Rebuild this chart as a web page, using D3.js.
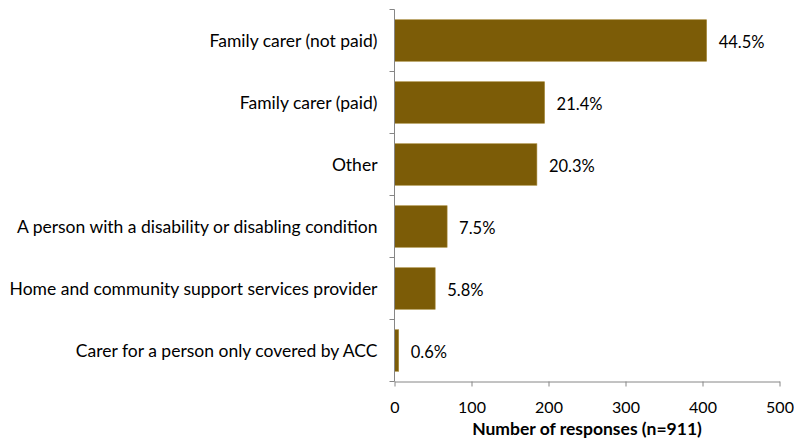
<!DOCTYPE html>
<html>
<head>
<meta charset="utf-8">
<script src="https://cdn.jsdelivr.net/npm/d3@7"></script>
<style>
  html, body { margin: 0; padding: 0; background: #fff; }
  svg { display: block; }
  text { font-family: Lato, "Open Sans", sans-serif; fill: #000; }
</style>
</head>
<body>
<svg id="chart" width="794" height="444"></svg>
<script>
// Respondent roles, top to bottom
const categories = [
  "Family carer (not paid)",
  "Family carer (paid)",
  "Other",
  "A person with a disability or disabling condition",
  "Home and community support services provider",
  "Carer for a person only covered by ACC"
];
// Share of respondents (%)
const percentages = [44.5, 21.4, 20.3, 7.5, 5.8, 0.6];
const totalResponses = 911;
// Number of responses implied by each share
const counts = percentages.map(p => p / 100 * totalResponses);
const xTicks = [0, 100, 200, 300, 400, 500];
const xTitle = "Number of responses (n=911)";

const svg = d3.select("#chart");
const plotTop = 9.5, plotBottom = 381.5;

const x = d3.scaleLinear().domain([0, 500]).range([394.5, 779.5]);
const y = d3.scaleBand().domain(categories).range([plotTop, plotBottom]).paddingInner(0.33).paddingOuter(0.165);

const data = categories.map((c, i) => ({ cat: c, count: counts[i], pct: percentages[i] }));

// Bars
svg.append("g").selectAll("rect").data(data).join("rect")
  .attr("x", x(0))
  .attr("y", d => y(d.cat))
  .attr("width", d => x(d.count) - x(0))
  .attr("height", y.bandwidth())
  .attr("fill", "#7c5c07")
  .attr("stroke", "#a88b3c")
  .attr("stroke-width", 0.6);

// Value labels
svg.append("g").selectAll("text").data(data).join("text")
  .attr("x", d => x(d.count) + 12)
  .attr("y", d => y(d.cat) + y.bandwidth() / 2 + 2)
  .attr("dy", "0.35em")
  .attr("font-size", 16.5)
  .text(d => d.pct.toFixed(1) + "%");

// Y axis: line with ticks between categories
const yAxisG = svg.append("g");
yAxisG.append("line")
  .attr("x1", x(0)).attr("x2", x(0))
  .attr("y1", plotTop).attr("y2", plotBottom)
  .attr("stroke", "#868686").attr("stroke-width", 1);
const yTickPos = d3.range(categories.length + 1).map(i => plotTop + i * (plotBottom - plotTop) / categories.length);
yAxisG.selectAll("line.tick").data(yTickPos).join("line")
  .attr("class", "tick")
  .attr("x1", x(0) - 5).attr("x2", x(0))
  .attr("y1", d => d).attr("y2", d => d)
  .attr("stroke", "#868686").attr("stroke-width", 1);

// Category labels
yAxisG.selectAll("text").data(categories).join("text")
  .attr("x", 377.5)
  .attr("y", d => y(d) + y.bandwidth() / 2)
  .attr("dy", "0.35em")
  .attr("text-anchor", "end")
  .attr("font-size", 17.5)
  .text(d => d);

// X axis
const xAxis = d3.axisBottom(x).tickValues(xTicks).tickSize(5).tickSizeOuter(0).tickPadding(15);
const xAxisG = svg.append("g").attr("transform", `translate(0,${plotBottom})`).call(xAxis);
xAxisG.select(".domain").attr("stroke", "#868686");
xAxisG.selectAll(".tick line").attr("stroke", "#868686");
xAxisG.selectAll(".tick text")
  .attr("font-family", "Lato, 'Open Sans', sans-serif")
  .attr("font-size", 16)
  .attr("fill", "#000");

// X axis title
svg.append("text")
  .attr("x", (x(0) + x(500)) / 2)
  .attr("y", 435)
  .attr("text-anchor", "middle")
  .attr("font-size", 17.5)
  .attr("font-weight", "bold")
  .text(xTitle);
</script>
</body>
</html>
